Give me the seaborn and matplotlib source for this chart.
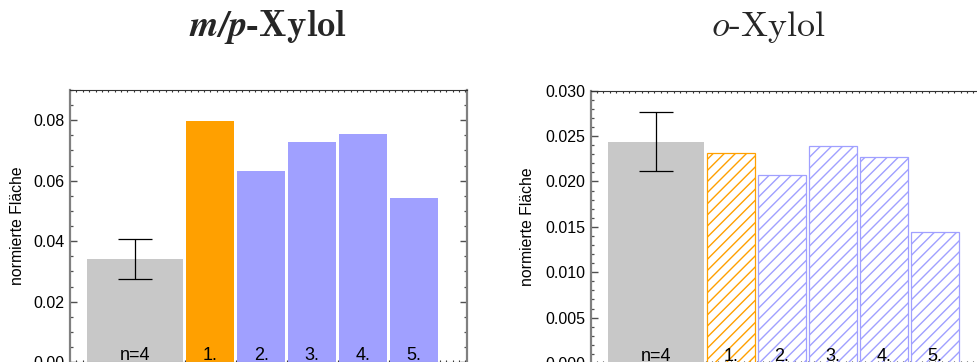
import matplotlib
matplotlib.use("Agg")
import matplotlib.pyplot as plt
import matplotlib.transforms as mtransforms
from matplotlib.ticker import MultipleLocator, FormatStrFormatter, NullLocator
import pandas as pd
import seaborn as sns

# --- data -------------------------------------------------------------
bar_labels = ["n=4", "1.", "2.", "3.", "4.", "5."]
bar_groups = ["Referenz", "Probe 1", "Probe", "Probe", "Probe", "Probe"]

mp_xylol = [0.0342, 0.0797, 0.0632, 0.0728, 0.0755, 0.0543]
mp_xylol_sd = 0.0066

o_xylol = [0.0244, 0.0231, 0.0207, 0.0239, 0.0227, 0.0144]
o_xylol_sd = 0.0032

# --- layout / style ---------------------------------------------------
ref_pos, ref_width = 1.275, 1.88
sample_pos = [2.745, 3.745, 4.745, 5.745, 6.745]
sample_width = 0.94
x_max = 7.79

palette = {"Referenz": "#c8c8c8", "Probe 1": "#ffa000", "Probe": "#a0a0ff"}
spine_grey = "#808080"
tick_grey = "#505050"

sns.set_theme(style="ticks")
plt.rcParams["font.family"] = ["Liberation Sans", "DejaVu Sans"]
plt.rcParams["hatch.linewidth"] = 1.0

fig = plt.figure(figsize=(9.78, 3.62), dpi=100)
W, H = 978.0, 362.0
ax1 = fig.add_axes([70 / W, (H - 362.2) / H, 397.5 / W, (362.2 - 90) / H])
ax2 = fig.add_axes([590.7 / W, (H - 363) / H, 397.5 / W, (363 - 90.7) / H])


def draw_panel(ax, values, sd, hatched, ymax, major, minor, fmt, label_x):
    ref = pd.DataFrame({"x": [ref_pos], "y": [values[0]]})
    sns.barplot(data=ref, x="x", y="y", native_scale=True, width=ref_width,
                color=palette["Referenz"], saturation=1, errorbar=None,
                linewidth=0, ax=ax)

    samples = pd.DataFrame({"x": sample_pos, "y": values[1:],
                            "g": bar_groups[1:]})
    if hatched:
        sns.barplot(data=samples, x="x", y="y", hue="g", palette=palette,
                    native_scale=True, width=sample_width, dodge=False,
                    fill=False, hatch="///", linewidth=0.9, saturation=1,
                    errorbar=None, legend=False, ax=ax)
    else:
        sns.barplot(data=samples, x="x", y="y", hue="g", palette=palette,
                    native_scale=True, width=sample_width, dodge=False,
                    linewidth=0, saturation=1, errorbar=None, legend=False,
                    ax=ax)

    ax.errorbar(ref_pos, values[0], yerr=sd, fmt="none", ecolor="black",
                elinewidth=0.9, capsize=12.2, capthick=0.9, zorder=5)

    # labels sitting on the base line of each bar
    trans = mtransforms.blended_transform_factory(ax.transData, ax.transAxes)
    for x, lab in zip([ref_pos] + sample_pos, bar_labels):
        ax.annotate(lab, xy=(x, 0), xycoords=trans, xytext=(0, 2),
                    textcoords="offset pixels", ha="center", va="baseline",
                    fontsize=13, color="black", zorder=6)

    ax.set_xlim(0, x_max)
    ax.set_ylim(0, ymax)
    ax.xaxis.set_major_locator(NullLocator())
    ax.xaxis.set_minor_locator(MultipleLocator(0.125))
    ax.yaxis.set_major_locator(MultipleLocator(major))
    ax.yaxis.set_minor_locator(MultipleLocator(minor))
    ax.yaxis.set_major_formatter(FormatStrFormatter(fmt))

    ax.tick_params(axis="y", which="major", direction="in", length=5,
                   width=1, color=tick_grey, left=True, right=True,
                   labelsize=11.5, labelcolor="black", pad=4)
    ax.tick_params(axis="y", which="minor", direction="in", length=2.5,
                   width=0.9, color=tick_grey, left=True, right=True)
    ax.tick_params(axis="x", which="minor", direction="in", length=1.6,
                   width=0.8, color="#333333", top=True, bottom=True)

    for side in ("left", "right"):
        ax.spines[side].set_color(spine_grey)
        ax.spines[side].set_linewidth(1.6)
    ax.spines["top"].set_color("#333333")
    ax.spines["top"].set_linewidth(0.8)
    ax.spines["bottom"].set_color("#999999")
    ax.spines["bottom"].set_linewidth(0.8)

    ax.set_xlabel("")
    ax.set_ylabel("normierte Fläche", fontsize=11.3, color="black")
    ax.yaxis.set_label_coords(label_x, 0.5)


draw_panel(ax1, mp_xylol, mp_xylol_sd, False, 0.09, 0.02, 0.005, "%.2f",
           -45 / 397.5)
draw_panel(ax2, o_xylol, o_xylol_sd, True, 0.030, 0.005, 0.001, "%.3f",
           -56 / 397.5)

fig.text(267.5 / W, 1 - 36 / H, r"$\mathbfit{m/p}$-Xylol", ha="center",
         va="baseline", fontsize=26.5, family="cmb10", math_fontfamily="cm")
fig.text(768.5 / W, 1 - 36 / H, r"$o$-Xylol", ha="center", va="baseline",
         fontsize=26, family="cmr10", math_fontfamily="cm")

fig.savefig("out.png", dpi=100)
